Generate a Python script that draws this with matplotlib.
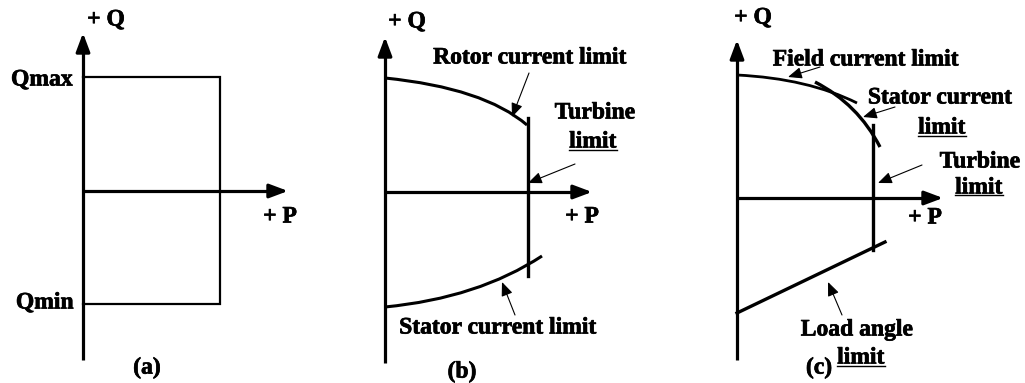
import matplotlib
matplotlib.use("Agg")
import matplotlib.pyplot as plt
from matplotlib.path import Path
from matplotlib.patches import PathPatch
import matplotlib.patheffects as pe

# ---- Panel (a): rectangular P-Q limits ----
a_q_max = 1.14
a_q_min = -1.13
a_p_max = 1.37

# ---- Panel (b): rotor / stator / turbine limits ----
# each curve: start, Bezier control, end  (P, Q)
b_rotor_p = [0.00, 0.99, 1.42]
b_rotor_q = [1.14, 1.04, 0.67]
b_stator_p = [0.00, 0.93, 1.57]
b_stator_q = [-1.15, -1.06, -0.64]
b_turbine_p = 1.43
b_turbine_q = [0.74, -0.84]

# ---- Panel (c): field / stator / turbine / load-angle limits ----
c_field_p = [0.00, 0.71, 1.20]
c_field_q = [1.23, 1.195, 0.95]
c_stator_p = [0.78, 1.21, 1.43]
c_stator_q = [1.16, 0.94, 0.51]
c_turbine_p = 1.36
c_turbine_q = [0.73, -0.52]
c_load_p = [0.00, 1.48]
c_load_q = [-1.15, -0.44]

W, H = 1025, 383
FONT = dict(family="Liberation Serif", weight="bold", fontsize=17, color="black")
HEAVY = [pe.withStroke(linewidth=0.5, foreground="black")]

fig = plt.figure(figsize=(W / 100, H / 100), dpi=100)
fig.patch.set_facecolor("white")
underlined = []


def panel(ox, oy):
    """Axes spanning the figure, with the P-Q origin at pixel (ox, oy); 1 unit = 100 px."""
    ax = fig.add_axes([0, 0, 1, 1])
    ax.set_xlim(-ox / 100, (W - ox) / 100)
    ax.set_ylim(-(H - oy) / 100, oy / 100)
    ax.axis("off")
    ax.patch.set_alpha(0)
    return ax


def axes_arrows(ax, q_top, q_bottom, p_right):
    style = dict(arrowstyle="-|>,head_length=0.8,head_width=0.3",
                 mutation_scale=14, lw=2.3, color="k", shrinkA=0, shrinkB=0)
    ax.plot([0, 0], [q_bottom, q_top - 0.1], color="k", lw=2.3, solid_capstyle="butt")
    ax.annotate("", xy=(0, q_top), xytext=(0, q_top - 0.2), arrowprops=style)
    ax.plot([0, p_right - 0.1], [0, 0], color="k", lw=2.3, solid_capstyle="butt")
    ax.annotate("", xy=(p_right, 0), xytext=(p_right - 0.2, 0), arrowprops=style)


def curve(ax, ps, qs, lw=2.2):
    path = Path(list(zip(ps, qs)), [Path.MOVETO, Path.CURVE3, Path.CURVE3])
    ax.add_patch(PathPatch(path, fill=False, edgecolor="k", lw=lw))


def pointer(ax, tail, head):
    ax.annotate("", xy=head, xytext=tail,
                arrowprops=dict(arrowstyle="-|>,head_length=0.6,head_width=0.25",
                                mutation_scale=14, lw=0.8, color="k",
                                shrinkA=0, shrinkB=0))


def label(ax, x, y, s, ha="center", underline=False):
    t = ax.text(x, y, s, ha=ha, va="center", path_effects=HEAVY, **FONT)
    if underline:
        underlined.append((ax, t))
    return t


# (a)
ax = panel(83, 191)
axes_arrows(ax, 1.58, -1.69, 2.05)
ax.plot([0, a_p_max, a_p_max, 0], [a_q_max, a_q_max, a_q_min, a_q_min],
        color="k", lw=1.6, solid_joinstyle="miter")
label(ax, 0.23, 1.71, "+ Q")
label(ax, 1.97, -0.26, "+ P")
label(ax, -0.10, 1.11, "Qmax", ha="right")
label(ax, -0.09, -1.12, "Qmin", ha="right")
label(ax, 0.64, -1.77, "(a)")

# (b)
ax = panel(385, 192)
axes_arrows(ax, 1.55, -1.71, 2.07)
curve(ax, b_rotor_p, b_rotor_q)
curve(ax, b_stator_p, b_stator_q)
ax.plot([b_turbine_p, b_turbine_p], b_turbine_q, color="k", lw=2.4)
label(ax, 0.22, 1.70, "+ Q")
label(ax, 1.97, -0.25, "+ P")
label(ax, 1.45, 1.34, "Rotor current limit")
label(ax, 2.10, 0.79, "Turbine")
label(ax, 2.08, 0.50, "limit", underline=True)
label(ax, 1.13, -1.36, "Stator current limit")
label(ax, 0.77, -1.80, "(b)")
pointer(ax, (1.44, 1.19), (1.27, 0.75))
pointer(ax, (1.90, 0.28), (1.43, 0.09))
pointer(ax, (1.30, -1.23), (1.17, -0.90))

# (c)
ax = panel(737, 198)
axes_arrows(ax, 1.58, -1.62, 2.06)
curve(ax, c_field_p, c_field_q, lw=2.0)
curve(ax, c_stator_p, c_stator_q, lw=2.4)
ax.plot([c_turbine_p, c_turbine_p], c_turbine_q, color="k", lw=2.4)
ax.plot(c_load_p, c_load_q, color="k", lw=2.4)
label(ax, 0.16, 1.80, "+ Q")
label(ax, 1.88, -0.20, "+ P")
label(ax, 1.29, 1.38, "Field current limit")
label(ax, 2.03, 1.00, "Stator current")
label(ax, 2.05, 0.70, "limit", underline=True)
label(ax, 2.43, 0.36, "Turbine")
label(ax, 2.42, 0.10, "limit", underline=True)
label(ax, 1.20, -1.32, "Load angle")
label(ax, 1.24, -1.60, "limit", underline=True)
label(ax, 0.82, -1.70, "(c)")
pointer(ax, (0.83, 1.31), (0.51, 1.21))
pointer(ax, (1.58, 0.91), (1.26, 0.81))
pointer(ax, (1.85, 0.33), (1.41, 0.15))
pointer(ax, (1.05, -1.17), (0.91, -0.84))

# underline the stand-alone "limit" words
fig.canvas.draw()
renderer = fig.canvas.get_renderer()
for ax_u, t in underlined:
    bb = t.get_window_extent(renderer).transformed(ax_u.transData.inverted())
    y_line = bb.y0 + 0.03
    ax_u.plot([bb.x0, bb.x1], [y_line, y_line], color="k", lw=1.0)

fig.savefig("out.png", dpi=100, facecolor="white")
